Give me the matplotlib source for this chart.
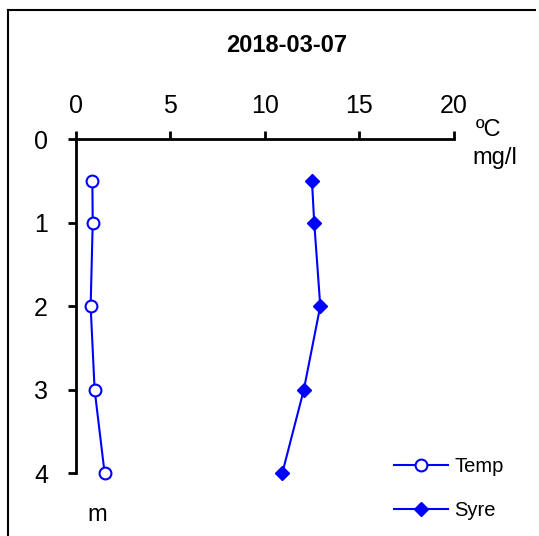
import matplotlib
matplotlib.use("Agg")
import matplotlib.pyplot as plt
from matplotlib.lines import Line2D

plt.rcParams['font.family'] = ['Liberation Sans', 'DejaVu Sans']

# data
depth = [0.5, 1, 2, 3, 4]
temp = [0.88, 0.9, 0.79, 1.0, 1.53]
syre = [12.49, 12.61, 12.93, 12.06, 10.92]
x_ticks = [0, 5, 10, 15, 20]
y_ticks = [0, 1, 2, 3, 4]

W, H = 539, 536
fig = plt.figure(figsize=(W / 100, H / 100), dpi=100)
ax = fig.add_axes([75.7 / W, 1 - 473.3 / H, (454 - 75.7) / W, (473.3 - 139) / H])

blue = '#0000ff'
ax.plot(temp, depth, color=blue, lw=1.5, marker='o', ms=8.5, mfc='white',
        mec=blue, mew=1.5, label='Temp', clip_on=False)
ax.plot(syre, depth, color=blue, lw=1.5, marker='D', ms=7.5, mfc=blue,
        mec=blue, label='Syre', clip_on=False)

ax.set_xlim(0, 20)
ax.set_ylim(4, 0)
ax.set_xticks(x_ticks)
ax.set_yticks(y_ticks)
ax.xaxis.tick_top()
for s in ['right', 'bottom']:
    ax.spines[s].set_visible(False)
for s in ['top', 'left']:
    ax.spines[s].set_linewidth(2)
ax.tick_params(axis='both', direction='out', length=6, width=2, labelsize=18)
ax.tick_params(axis='x', pad=9)
ax.tick_params(axis='y', pad=14)

leg = ax.legend(loc='lower left', bbox_to_anchor=(384 / W, 6 / H),
                bbox_transform=fig.transFigure, frameon=False, fontsize=14.5,
                handlelength=2.7, labelspacing=1.22, handletextpad=0.3,
                borderpad=0)

fig.text(287 / W, 1 - 45 / H, '2018-03-07', ha='center', va='center',
         fontsize=17, fontweight='bold')
fig.text(489 / W, 1 - 130 / H, '\u00baC', ha='center', va='center', fontsize=17)
fig.text(495 / W, 1 - 158 / H, 'mg/l', ha='center', va='center', fontsize=17)
fig.text(97 / W, 1 - 515 / H, 'm', ha='center', va='center', fontsize=17)

# frame around the chart (left and top edges)
fig.add_artist(Line2D([8 / W, 8 / W], [0, 1 - 10 / H], color='black', lw=1.5,
                      transform=fig.transFigure))
fig.add_artist(Line2D([8 / W, 535 / W], [1 - 10 / H, 1 - 10 / H], color='black',
                      lw=1.5, transform=fig.transFigure))

fig.savefig('out.png', dpi=100, facecolor='white')
